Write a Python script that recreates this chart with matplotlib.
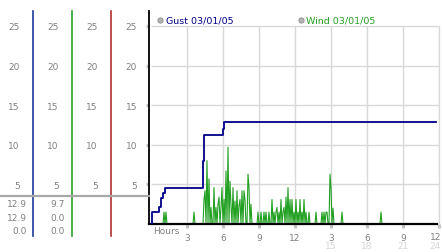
import matplotlib
matplotlib.use('Agg')
import matplotlib.pyplot as plt
from matplotlib.lines import Line2D
import numpy as np

W, H = 442, 253

# gust readings: step times (hours) and values
gust_t = [0, 0.1, 0.67, 0.83, 1.03, 1.17, 4.36, 4.44, 5.97, 6.1, 23.75]
gust_v = [0, 1.5, 2.2, 3.3, 3.9, 4.6, 8.0, 11.2, 12.0, 12.9, 12.9]

# wind readings, one every 5 minutes (one row per hour)
wind = [
    0, 0, 0, 0, 0, 0, 0, 0, 0, 0, 0, 0,
    0, 1.5, 0, 1.5, 0, 0, 0, 0, 0, 0, 0, 0,
    0, 0, 0, 0, 0, 0, 0, 0, 0, 0, 0, 0,
    0, 0, 0, 0, 0, 0, 0, 1.5, 0, 0, 0, 0,
    0, 0, 0, 0, 0, 3.1, 4.2, 0, 8.0, 0, 5.7, 0,
    2.1, 0, 0, 4.6, 0, 2.1, 0, 2.5, 3.4, 0, 2.1, 4.6,
    0, 3.1, 0, 6.7, 0, 9.7, 0, 5.4, 2.3, 0, 4.6, 0,
    2.9, 0, 4.2, 0, 2.3, 3.1, 0, 4.2, 0, 4.2, 3.1, 0,
    0, 6.3, 4.6, 0, 2.5, 0, 0, 0, 0, 0, 0, 1.5,
    0, 0, 1.5, 0, 0, 1.5, 0, 1.5, 0, 0, 1.5, 0,
    0, 3.1, 0, 1.5, 0, 1.5, 2.1, 0, 1.5, 0, 3.1, 0,
    1.5, 2.1, 0, 3.4, 0, 4.6, 0, 3.1, 0, 3.1, 0, 1.5,
    0, 3.1, 0, 1.5, 0, 3.1, 0, 1.5, 0, 3.1, 0, 1.5,
    0, 0, 1.5, 0, 0, 0, 0, 0, 0, 1.5, 0, 0,
    0, 0, 0, 1.5, 0, 1.5, 0, 1.5, 1.5, 0, 0, 6.3,
    4.6, 0, 2.0, 0, 0, 0, 0, 0, 0, 0, 0, 1.5,
    0, 0, 0, 0, 0, 0, 0, 0, 0, 0, 0, 0,
    0, 0, 0, 0, 0, 0, 0, 0, 0, 0, 0, 0,
    0, 0, 0, 0, 0, 0, 0, 0, 0, 0, 0, 0,
    0, 0, 1.5, 0, 0, 0, 0, 0, 0, 0, 0, 0,
    0, 0, 0, 0, 0, 0, 0, 0, 0, 0, 0, 0,
    0, 0, 0, 0, 0, 0, 0, 0, 0, 0, 0, 0,
    0, 0, 0, 0, 0, 0, 0, 0, 0, 0, 0, 0,
    0, 0, 0, 0, 0, 0, 0, 0, 0, 0,
]
wind_t = np.arange(len(wind)) / 12.0

y_ticks = [5, 10, 15, 20, 25]
x_ticks = [3, 6, 9, 12, 15, 18, 21, 24]
x_labels = ['3', '6', '9', '12', '3', '6', '9', '12']
x_labels2 = {15: '15', 18: '18', 21: '21', 24: '24'}

GUST = '#000088'
WIND = '#22a022'
GRAY = '#808080'


def fx(px):
    return px / W


def fy(py):
    return 1 - py / H


ppu = 7.92                      # pixels per unit on the value axis
ytop = (225 - 12) / ppu
fs = 6.5
xmax = 24 + 2 / 12

fig = plt.figure(figsize=(W / 100, H / 100), dpi=100)
fig.patch.set_facecolor('white')

# main chart
ax = fig.add_axes([fx(149), fy(225), (441 - 149) / W, (225 - 12) / H])
ax.set_xlim(-2 / 12, xmax)
ax.set_ylim(0, ytop)
for s in ('top', 'right'):
    ax.spines[s].set_visible(False)
ax.spines['left'].set_color('black')
ax.spines['left'].set_linewidth(1.3)
ax.spines['bottom'].set_color('black')
ax.spines['bottom'].set_linewidth(1.6)
ax.spines['bottom'].set_bounds(-2 / 12, 23.8)

ax.hlines(y_ticks, 0, 24, color='#d8d8d8', lw=1, zorder=0)
ax.vlines(x_ticks, 0, 25, color='#d8d8d8', lw=1, zorder=0)

ax.plot(wind_t, wind, color=WIND, lw=0.8, zorder=2)
ax.step(gust_t, gust_v, where='post', color=GUST, lw=1.3, zorder=3)

ax.set_yticks(y_ticks)
ax.set_yticklabels([str(v) for v in y_ticks])
ax.tick_params(axis='y', length=2.3, width=2.3, color='#c4c4c4',
               pad=6.3, labelsize=fs, labelcolor=GRAY)
ax.set_xticks(x_ticks)
ax.set_xticklabels(x_labels[:-1] + [''])
ax.tick_params(axis='x', length=2.6, width=2.3, color='#c4c4c4',
               pad=4.2, labelsize=fs, labelcolor=GRAY)
# last labels sit flush with the right edge
ax.text(xmax, -(237.5 - 225) / ppu, x_labels[-1], ha='right', va='center',
        fontsize=fs, color=GRAY, clip_on=False)
for h, lab in x_labels2.items():
    ha = 'right' if h == 24 else 'center'
    xh = xmax if h == 24 else h
    ax.text(xh, -(246.5 - 225) / ppu, lab, ha=ha, va='center',
            fontsize=fs, color='#d4d4d4', clip_on=False)
fig.text(fx(153), fy(232), 'Hours', ha='left', va='center',
         fontsize=fs, color=GRAY)

# legend
for mx, tx, label, col in ((160, 165.5, 'Gust 03/01/05', GUST),
                           (300.5, 306, 'Wind 03/01/05', WIND)):
    fig.add_artist(Line2D([fx(mx)], [fy(20.5)], marker='o', markersize=3.8,
                          markerfacecolor='#b4b4b4', markeredgecolor='#8c8c8c',
                          markeredgewidth=0.6, linestyle='none'))
    fig.text(fx(tx), fy(20.5), label, ha='left', va='center',
             fontsize=6.8, color=col)

# value-scale columns on the left
panels = [(33, '#1c3c9c'), (72, '#2ca02c'), (111, '#b03030')]
for xp, col in panels:
    pa = fig.add_axes([fx(xp), fy(237), 1 / W, (237 - 12) / H])
    pa.set_ylim(-12 / ppu, ytop)
    pa.patch.set_visible(False)
    for s in ('top', 'right', 'bottom'):
        pa.spines[s].set_visible(False)
    pa.spines['left'].set_color(col)
    pa.spines['left'].set_linewidth(1.2)
    pa.set_xticks([])
    pa.set_yticks(y_ticks)
    pa.set_yticklabels([str(v) for v in y_ticks])
    pa.tick_params(axis='y', length=0, pad=9.6, labelsize=fs, labelcolor=GRAY)

# separator between scale and readouts
fig.add_artist(Line2D([0, fx(149)], [fy(197), fy(197)], color='#a8a8a8', lw=1.6))

# readouts: max, current, min
for xp, series in ((27, gust_v), (65, wind)):
    vals = [max(series), series[-1], min(series)]
    for yy, v in zip((205, 218.5, 232), vals):
        fig.text(fx(xp), fy(yy), '%.1f' % v, ha='right', va='center',
                 fontsize=fs, color=GRAY)

fig.savefig('out.png', dpi=100, facecolor='white')
